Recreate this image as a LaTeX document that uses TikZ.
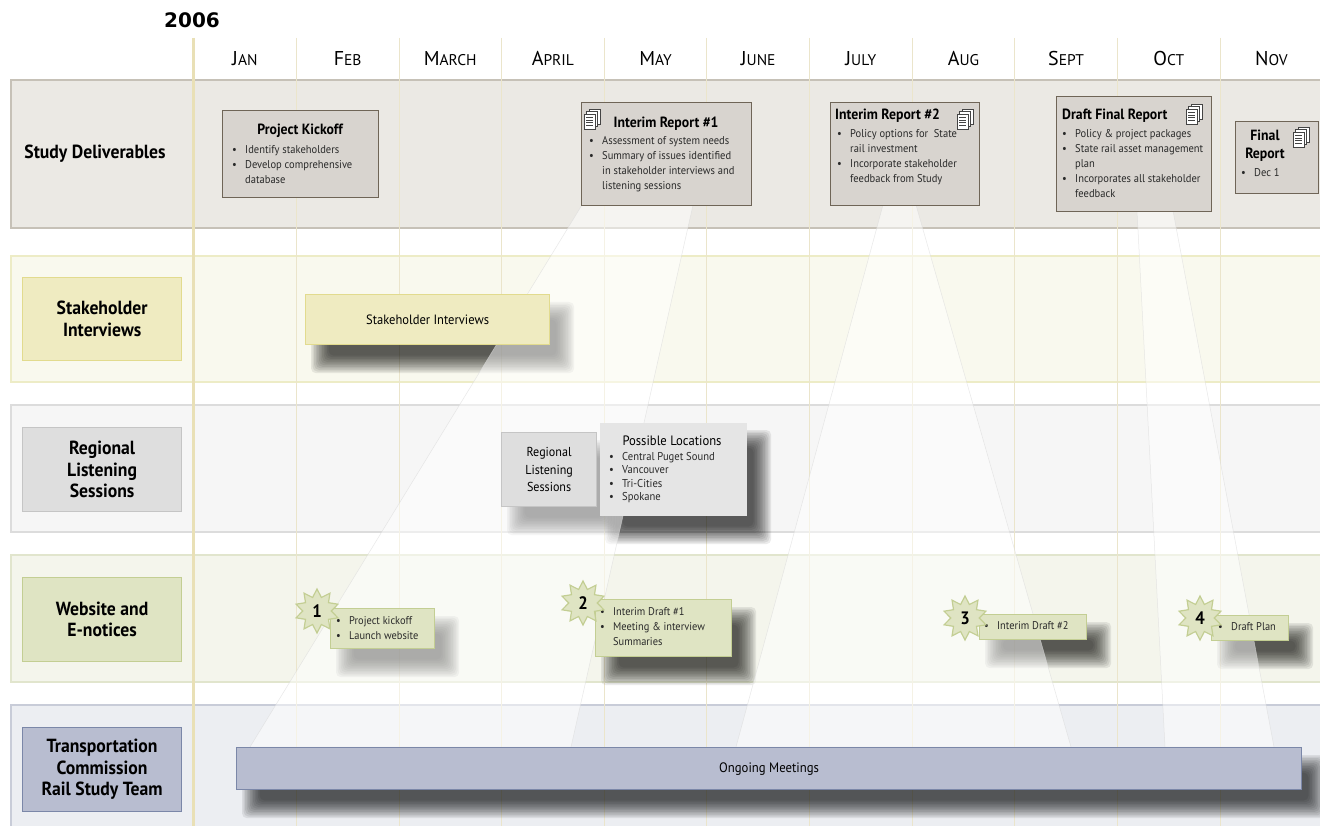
\documentclass[tikz,border=0pt]{standalone}
\usepackage{fontspec}
\setmainfont{PT Sans}[FakeStretch=0.93]
\newfontfamily\plainfont{PT Sans}
\newfontfamily\yearfont{DejaVu Sans}
\usetikzlibrary{shapes.geometric,calc}
\definecolor{bandA}{HTML}{EBE9E4}\definecolor{bandAb}{HTML}{C6C1B7}
\definecolor{bandB}{HTML}{F9F9EE}\definecolor{bandBb}{HTML}{EDECC6}
\definecolor{bandC}{HTML}{F6F6F6}\definecolor{bandCb}{HTML}{DCDCDC}
\definecolor{bandD}{HTML}{F4F5EC}\definecolor{bandDb}{HTML}{E1E5CD}
\definecolor{bandE}{HTML}{ECEEF2}\definecolor{bandEb}{HTML}{C8CCD8}
\definecolor{delfill}{HTML}{D8D4CF}\definecolor{deldraw}{HTML}{6F6557}
\definecolor{yelfill}{HTML}{EFEBC1}\definecolor{yeldraw}{HTML}{E2DB8E}
\definecolor{grfill}{HTML}{DEDEDE}\definecolor{grdraw}{HTML}{C5C5C5}
\definecolor{grnfill}{HTML}{DFE4C3}\definecolor{grndraw}{HTML}{C3CE93}
\definecolor{blfill}{HTML}{B8BDD0}\definecolor{bldraw}{HTML}{7B87A8}
\definecolor{gridc}{HTML}{EBE5CB}\definecolor{gridA}{HTML}{E9E0B6}
\definecolor{txt}{HTML}{2A2A2A}
\definecolor{iconc}{HTML}{444444}
\pgfdeclarelayer{back}\pgfdeclarelayer{shadowl}
\pgfsetlayers{back,shadowl,main}
\newcommand\bul{\makebox[13pt][l]{\textbullet}}
\newcommand\bcont{\hspace*{13pt}}
\newcommand\monthlbl[2]{{\plainfont\fontsize{20}{22}\selectfont #1\fontsize{15.5}{17}\selectfont #2}}
\newcommand\dropshadow[1]{%
  \begin{pgfonlayer}{shadowl}
  \foreach \i in {0,...,11}{
    \fill[black, opacity=0.08, rounded corners=5pt]
      ($(#1.north west)+(6+1.6*\i,8+1.6*\i)$) rectangle ($(#1.south east)+(24-1.6*\i,28-1.6*\i)$);
  }
  \end{pgfonlayer}}
\tikzset{
  rbox/.style={anchor=north west, inner sep=0pt, line width=1.2pt},
  delbox/.style={rbox, fill=delfill, draw=deldraw},
  lbl/.style={font=\bfseries\fontsize{19}{21.5}\selectfont, align=center},
  ttl/.style={font=\bfseries\fontsize{14.8}{18}\selectfont, inner sep=0pt},
  body/.style={font=\fontsize{11.3}{15}\selectfont, align=left, inner sep=0pt, anchor=north west, text=txt},
  wbody/.style={font=\fontsize{11.2}{15}\selectfont, align=left, inner sep=0pt, anchor=north west, text=txt},
  beam/.style={fill=white, fill opacity=0.5, draw=black!15, draw opacity=0.6, line width=0.5pt},
  starn/.style={star, star points=10, star point ratio=1.55, minimum size=44pt, inner sep=0pt,
    fill=grnfill, draw=grndraw, line width=1.2pt, font=\bfseries\fontsize{18}{18}\selectfont},
  docicon/.pic={
    \foreach \k in {2,1,0}{
      \filldraw[fill=white, draw=iconc, line width=0.7pt]
        (-8+2.5*\k,-5-2.5*\k) rectangle (3+2.5*\k,10-2.5*\k);
    }
    \foreach \yy in {-1.5,1,3.5,6}{
      \draw[iconc, line width=0.7pt] (-6,\yy) -- (1,\yy);
    }
  }
}
\begin{document}
\begin{tikzpicture}[x=1pt,y=-1pt]
\useasboundingbox (0,0) rectangle (1320,826);
\begin{pgfonlayer}{back}
\fill[white] (0,0) rectangle (1320,826);
% bands
\filldraw[fill=bandA, draw=bandAb, line width=1.5pt] (11,80) rectangle (1325,228);
\filldraw[fill=bandB, draw=bandBb, line width=1.5pt] (11,256) rectangle (1325,382);
\filldraw[fill=bandC, draw=bandCb, line width=1.5pt] (11,405) rectangle (1325,532);
\filldraw[fill=bandD, draw=bandDb, line width=1.5pt] (11,555) rectangle (1325,682);
\filldraw[fill=bandE, draw=bandEb, line width=1.5pt] (11,705) rectangle (1325,835);
% grid
\foreach \k in {1,...,11}{
  \draw[gridc, line width=0.8pt] (193.6+102.65*\k,38) -- (193.6+102.65*\k,826);
}
\draw[gridA, line width=2.5pt] (193.6,38) -- (193.6,826);
\end{pgfonlayer}
% year and months
\node[font=\yearfont\bfseries\fontsize{20}{22}\selectfont, inner sep=0pt] (yr) at (192,20) {2006};
\node[anchor=base] (m1) at (244.9,66) {\monthlbl{J}{AN}};
\node[anchor=base] (m2) at (347.6,66) {\monthlbl{F}{EB}};
\node[anchor=base] (m3) at (450.2,66) {\monthlbl{M}{ARCH}};
\node[anchor=base] (m4) at (552.9,66) {\monthlbl{A}{PRIL}};
\node[anchor=base] (m5) at (655.5,66) {\monthlbl{M}{AY}};
\node[anchor=base] (m6) at (758.2,66) {\monthlbl{J}{UNE}};
\node[anchor=base] (m7) at (860.8,66) {\monthlbl{J}{ULY}};
\node[anchor=base] (m8) at (963.5,66) {\monthlbl{A}{UG}};
\node[anchor=base] (m9) at (1066.1,66) {\monthlbl{S}{EPT}};
\node[anchor=base] (m10) at (1168.8,66) {\monthlbl{O}{CT}};
\node[anchor=base] (m11) at (1271.4,66) {\monthlbl{N}{OV}};
% beams
\filldraw[beam] (582,205) -- (693,205) -- (571,747) -- (250,747) -- cycle;
\filldraw[beam] (883,205) -- (916,205) -- (1071,747) -- (736,747) -- cycle;
\filldraw[beam] (1137,211) -- (1173,211) -- (1274,747) -- (1165,747) -- cycle;
% row labels
\node[lbl] (sd) at (95,154) {Study Deliverables};
\node[rbox, fill=yelfill, draw=yeldraw, minimum width=159, minimum height=83, lbl] (si) at (22,277) {Stakeholder\\Interviews};
\node[rbox, fill=grfill, draw=grdraw, minimum width=159, minimum height=84, lbl] (rl) at (22,427) {Regional\\Listening\\Sessions};
\node[rbox, fill=grnfill, draw=grndraw, minimum width=159, minimum height=84, lbl] (we) at (22,577) {Website and\\E-notices};
\node[rbox, fill=blfill, draw=bldraw, minimum width=159, minimum height=84, lbl] (tc) at (22,727) {Transportation\\Commission\\Rail Study Team};
% deliverables
\node[delbox, minimum width=156, minimum height=87] (pk) at (222,110) {};
\node[ttl] (pkt) at (300,131) {Project Kickoff};
\node[body] (pkb) at (232,145) {\bul Identify stakeholders\\\bul Develop comprehensive\\\bcont database};
\node[delbox, minimum width=170, minimum height=103] (ir1) at (581,102) {};
\pic at (592,119) {docicon};
\node[ttl] (ir1t) at (666,124) {Interim Report \#1};
\node[body] (ir1b) at (589,136) {\bul Assessment of system needs\\\bul Summary of issues identified\\\bcont in stakeholder interviews and\\\bcont listening sessions};
\node[delbox, minimum width=149, minimum height=103] (ir2) at (830,102) {};
\pic at (965,119) {docicon};
\node[ttl, anchor=west] (ir2t) at (835,116) {Interim Report \#2};
\node[body] (ir2b) at (837,129) {\bul Policy options for\ \ State\\\bcont rail investment\\\bul Incorporate stakeholder\\\bcont feedback from Study};
\node[delbox, minimum width=155, minimum height=115] (dfr) at (1056,96) {};
\pic at (1194,114) {docicon};
\node[ttl, anchor=west] (dfrt) at (1062,116) {Draft Final Report};
\node[body] (dfrb) at (1062,129) {\bul Policy \& project packages\\\bul State rail asset management\\\bcont plan\\\bul Incorporates all stakeholder\\\bcont feedback};
\node[delbox, minimum width=83, minimum height=72] (fr) at (1235,121) {};
\pic at (1301,137) {docicon};
\node[ttl, align=center] (frt) at (1265,146) {Final\\Report};
\node[body] (frb) at (1241,168) {\bul Dec 1};
% stakeholder interviews
\node[rbox, fill=yelfill, draw=yeldraw, minimum width=244, minimum height=50, font=\fontsize{13.5}{15}\selectfont] (sib) at (305,294) {Stakeholder Interviews};
\dropshadow{sib}
% listening sessions
\node[rbox, fill=grfill, draw=grdraw, minimum width=95, minimum height=74, align=center, font=\fontsize{13}{17.5}\selectfont] (rls) at (501,432) {Regional\\Listening\\Sessions};
\dropshadow{rls}
\node[rbox, fill=grfill!80!white, minimum width=147, minimum height=93] (pl) at (599,422) {};
\dropshadow{pl}
\node[font=\fontsize{13.6}{15}\selectfont, inner sep=0pt] (plt) at (672,441) {Possible Locations};
\node[body, font=\fontsize{11.4}{13.5}\selectfont] (plb) at (609,452) {\bul Central Puget Sound\\\bul Vancouver\\\bul Tri-Cities\\\bul Spokane};
% website notices
\node[rbox, fill=grnfill, draw=grndraw, minimum width=104, minimum height=40] (w1) at (330,608) {};
\dropshadow{w1}
\node[wbody] (w1b) at (336,616) {\bul Project kickoff\\\bul Launch website};
\node[starn] (s1) at (317,611) {1};
\node[rbox, fill=grnfill, draw=grndraw, minimum width=136, minimum height=57] (w2) at (595,599) {};
\dropshadow{w2}
\node[wbody] (w2b) at (600,607) {\bul Interim Draft \#1\\\bul Meeting \& interview\\\bcont Summaries};
\node[starn] (s2) at (583,603) {2};
\node[rbox, fill=grnfill, draw=grndraw, minimum width=107, minimum height=25] (w3) at (979,614) {};
\dropshadow{w3}
\node[wbody] (w3b) at (984,621) {\bul Interim Draft \#2};
\node[starn] (s3) at (965,618) {3};
\node[rbox, fill=grnfill, draw=grndraw, minimum width=77, minimum height=25] (w4) at (1211,615) {};
\dropshadow{w4}
\node[wbody] (w4b) at (1218,622) {\bul Draft Plan};
\node[starn] (s4) at (1200,618) {4};
% ongoing meetings
\node[rbox, fill=blfill, draw=bldraw, minimum width=1065, minimum height=42, font=\fontsize{13.7}{15}\selectfont] (og) at (236,747) {Ongoing Meetings};
\dropshadow{og}
\end{tikzpicture}
\end{document}
